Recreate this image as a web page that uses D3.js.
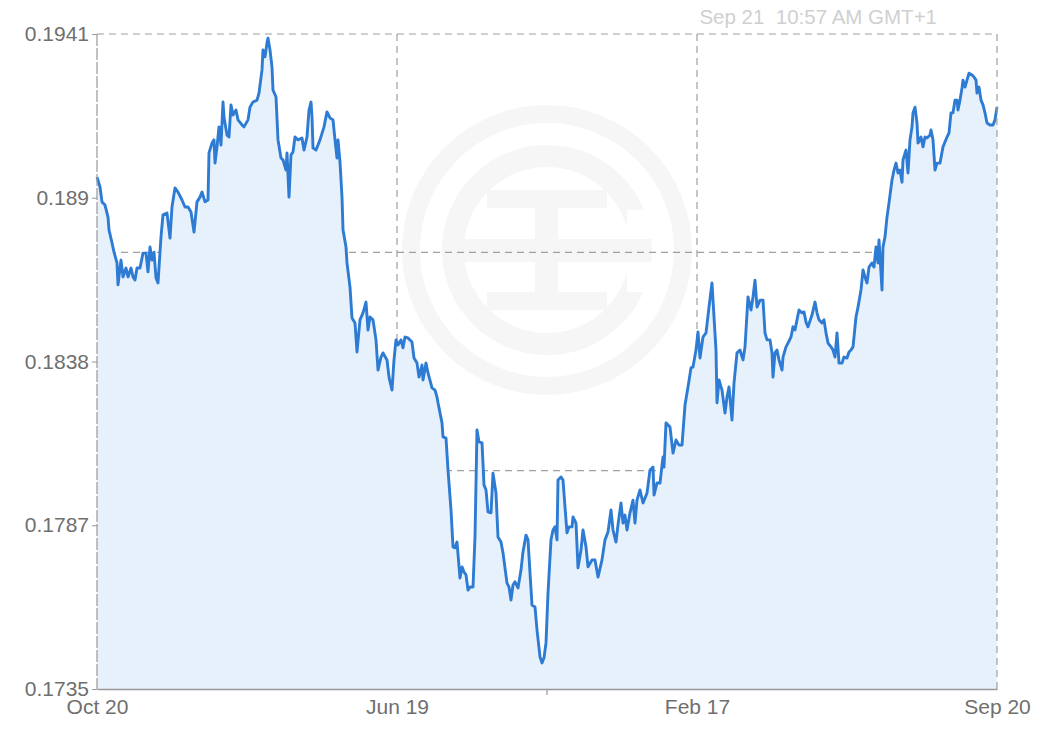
<!DOCTYPE html>
<html>
<head>
<meta charset="utf-8">
<script src="https://cdn.jsdelivr.net/npm/d3@7"></script>
<style>
  html, body { margin: 0; padding: 0; background: #fff; }
  svg { display: block; font-family: "Liberation Sans", Arial, Helvetica, sans-serif; }
</style>
</head>
<body>
<svg id="chart" width="1043" height="733"></svg>
<script>
// ---- data ----
const steps = [
  0,3,5,8,11,12,15,17,20,21,
  24,26,29,31,34,36,38,40,43,46,
  49,51,53,55,57,59,61,64,66,70,
  73,75,78,81,85,88,91,94,97,100,
  103,105,108,111,112,115,117,118,120,122,
  124,126,127,130,132,134,136,139,141,145,
  147,151,153,156,160,162,165,166,168,170,
  171,173,175,176,179,181,184,186,189,190,
  192,194,196,198,201,205,207,210,212,214,
  215,216,219,223,227,230,233,236,238,240,
  241,243,245,246,249,250,253,255,258,260,
  263,266,269,271,273,276,279,281,284,286,
  290,292,295,297,299,301,304,306,308,311,
  315,317,320,322,325,326,329,331,335,338,
  340,341,345,346,349,351,354,356,358,360,
  363,365,367,369,371,373,376,378,380,382,
  385,387,389,391,394,396,399,401,404,406,
  410,412,414,416,418,421,424,426,429,431,
  433,435,438,440,443,445,447,449,451,454,
  456,458,460,461,464,466,468,470,472,475,
  476,479,481,484,486,489,491,495,498,501,
  505,508,511,514,516,519,521,524,526,528,
  530,533,536,538,540,543,546,550,553,556,
  557,560,563,566,567,569,573,576,579,582,
  585,588,591,594,596,599,601,603,606,609,
  612,615,617,619,620,622,625,628,630,632,
  635,637,640,643,646,648,651,654,656,658,
  660,663,666,668,670,673,675,676,678,680,
  682,685,686,689,691,694,696,698,700,702,
  705,707,709,711,715,718,720,722,725,727,
  729,731,734,736,738,740,742,745,747,750,
  752,754,756,759,761,764,766,768,770,772,
  775,777,779,781,782,784,785,786,788,790,
  792,795,797,799,801,803,805,806,809,811,
  813,815,816,818,820,821,824,826,828,830,
  831,833,834,836,838,840,843,846,850,852,
  854,856,858,860,861,863,865,866,868,870,
  872,875,877,879,880,882,884,886,888,890,
  893,896,898,900
];
const rates = [
  0.18962,0.18931,0.18884,0.18874,0.18836,0.18796,0.18755,0.18726,0.18692,0.18623,
  0.18701,0.18648,0.18676,0.18648,0.18676,0.18648,0.18638,0.18676,0.18676,0.18723,
  0.18723,0.18664,0.18742,0.18701,0.18726,0.18645,0.18629,0.18774,0.18843,0.18849,
  0.18770,0.18868,0.18928,0.18915,0.18890,0.18868,0.18868,0.18852,0.18789,0.18884,
  0.18899,0.18915,0.18884,0.18890,0.19038,0.19069,0.19079,0.19006,0.19057,0.19120,
  0.19063,0.19198,0.19151,0.19094,0.19088,0.19189,0.19157,0.19173,0.19142,0.19126,
  0.19120,0.19142,0.19182,0.19198,0.19204,0.19226,0.19299,0.19362,0.19340,0.19384,
  0.19399,0.19362,0.19308,0.19236,0.19214,0.19079,0.19022,0.19016,0.18984,0.19038,
  0.18899,0.19032,0.19041,0.19088,0.19079,0.19085,0.19047,0.19088,0.19173,0.19198,
  0.19151,0.19054,0.19047,0.19079,0.19120,0.19167,0.19148,0.19142,0.19079,0.19022,
  0.19079,0.19009,0.18899,0.18796,0.18742,0.18692,0.18616,0.18519,0.18503,0.18412,
  0.18513,0.18535,0.18569,0.18481,0.18522,0.18513,0.18450,0.18355,0.18396,0.18409,
  0.18387,0.18333,0.18292,0.18387,0.18450,0.18434,0.18450,0.18425,0.18459,0.18456,
  0.18443,0.18393,0.18377,0.18333,0.18371,0.18324,0.18377,0.18346,0.18299,0.18292,
  0.18270,0.18252,0.18189,0.18145,0.18141,0.18041,0.17915,0.17799,0.17796,0.17814,
  0.17701,0.17736,0.17720,0.17711,0.17663,0.17673,0.17673,0.17830,0.18167,0.18129,
  0.18126,0.17994,0.17978,0.17909,0.17906,0.18031,0.17968,0.17830,0.17814,0.17780,
  0.17685,0.17673,0.17632,0.17679,0.17689,0.17670,0.17726,0.17783,0.17836,0.17821,
  0.17717,0.17616,0.17610,0.17538,0.17453,0.17434,0.17450,0.17497,0.17654,0.17821,
  0.17852,0.17862,0.17821,0.18009,0.18019,0.18009,0.17924,0.17843,0.17862,0.17862,
  0.17893,0.17874,0.17733,0.17789,0.17852,0.17799,0.17736,0.17758,0.17758,0.17704,
  0.17758,0.17821,0.17846,0.17915,0.17852,0.17814,0.17868,0.17937,0.17874,0.17899,
  0.17852,0.17906,0.17946,0.17874,0.17946,0.17978,0.17937,0.17968,0.18041,0.18050,
  0.17962,0.18000,0.18000,0.18082,0.18050,0.18189,0.18176,0.18094,0.18135,0.18119,
  0.18119,0.18245,0.18302,0.18362,0.18365,0.18418,0.18475,0.18393,0.18459,0.18472,
  0.18553,0.18629,0.18522,0.18418,0.18252,0.18324,0.18292,0.18220,0.18270,0.18302,
  0.18198,0.18314,0.18409,0.18418,0.18387,0.18428,0.18585,0.18544,0.18585,0.18638,
  0.18553,0.18575,0.18575,0.18472,0.18450,0.18450,0.18409,0.18333,0.18409,0.18418,
  0.18387,0.18355,0.18396,0.18428,0.18440,0.18459,0.18491,0.18481,0.18513,0.18544,
  0.18535,0.18538,0.18506,0.18491,0.18528,0.18569,0.18535,0.18513,0.18503,0.18513,
  0.18472,0.18440,0.18428,0.18418,0.18396,0.18472,0.18377,0.18377,0.18396,0.18393,
  0.18412,0.18418,0.18428,0.18522,0.18553,0.18607,0.18670,0.18648,0.18629,0.18679,
  0.18692,0.18679,0.18742,0.18692,0.18764,0.18660,0.18607,0.18742,0.18774,0.18836,
  0.18881,0.18953,0.18984,0.19006,0.18975,0.18984,0.18946,0.19016,0.19047,0.18975,
  0.19079,0.19120,0.19164,0.19182,0.19132,0.19069,0.19088,0.19057,0.19088,0.19085,
  0.19088,0.19094,0.19110,0.19079,0.18984,0.19006,0.19006,0.19057,0.19088,0.19101,
  0.19164,0.19164,0.19204,0.19204,0.19173,0.19204,0.19242,0.19267,0.19245,0.19267,
  0.19289,0.19283,0.19277,0.19267,0.19226,0.19245,0.19204,0.19189,0.19164,0.19132,
  0.19126,0.19126,0.19142,0.19182
];
const yTicks = [0.17352, 0.17867, 0.18382, 0.18897, 0.19412];
const xTickSteps = [0, 300, 600, 900];
const xTickLabels = ["Oct 20", "Jun 19", "Feb 17", "Sep 20"];
const minorXTicks = [450];
const timestamp = "Sep 21  10:57 AM GMT+1";

// ---- layout ----
const W = 1043, H = 733;
const m = { left: 97, right: 46, top: 34, bottom: 44 };
const x0 = m.left, x1 = W - m.right, y0 = m.top, y1 = H - m.bottom;

const svg = d3.select("#chart");
const x = d3.scaleLinear().domain([0, 900]).range([x0, x1]);
const y = d3.scaleLinear().domain([yTicks[0], yTicks[yTicks.length - 1]]).range([y1, y0]);
const data = steps.map((s, i) => ({ s, v: rates[i] }));

// ---- watermark ----
const wm = svg.append("g");
const cx = (x0 + x1) / 2, cy = 250;
const wmGrey = "#f6f6f6";
wm.append("circle").attr("cx", cx).attr("cy", cy).attr("r", 136)
  .attr("fill", "none").attr("stroke", wmGrey).attr("stroke-width", 18);
wm.append("circle").attr("cx", cx).attr("cy", cy).attr("r", 94)
  .attr("fill", "none").attr("stroke", wmGrey).attr("stroke-width", 22);
wm.append("rect").attr("x", cx - 60).attr("y", cy - 60).attr("width", 120).attr("height", 18).attr("fill", wmGrey);
wm.append("rect").attr("x", cx - 84).attr("y", cy - 11).attr("width", 184).attr("height", 23).attr("fill", wmGrey);
wm.append("rect").attr("x", cx - 60).attr("y", cy + 42).attr("width", 120).attr("height", 18).attr("fill", wmGrey);
wm.append("rect").attr("x", cx - 12).attr("y", cy - 42).attr("width", 23).attr("height", 84).attr("fill", wmGrey);
wm.append("rect").attr("x", cx + 80).attr("y", cy - 40).attr("width", 30).attr("height", 29).attr("fill", "#fff");
wm.append("rect").attr("x", cx + 80).attr("y", cy + 12).attr("width", 30).attr("height", 30).attr("fill", "#fff");

// ---- internal grid (behind area) ----
const gridColor = "#a0a0a0";
const dash = "7,5";
const g = svg.append("g");
[300, 600].forEach(s => {
  g.append("line").attr("x1", x(s)).attr("x2", x(s)).attr("y1", y0).attr("y2", y1)
    .attr("stroke", gridColor).attr("stroke-width", 1.2).attr("stroke-dasharray", dash);
});
const yDom = y.domain();
[1 / 3, 2 / 3].forEach(f => {
  const v = yDom[0] + (yDom[1] - yDom[0]) * f;
  g.append("line").attr("x1", x0).attr("x2", x1).attr("y1", y(v)).attr("y2", y(v))
    .attr("stroke", gridColor).attr("stroke-width", 1.2).attr("stroke-dasharray", dash);
});

// ---- area + line ----
const area = d3.area().x(d => x(d.s)).y0(y1).y1(d => y(d.v));
const line = d3.line().x(d => x(d.s)).y(d => y(d.v));
svg.append("path").datum(data).attr("d", area).attr("fill", "#e7f1fb");
svg.append("path").datum(data).attr("d", line).attr("fill", "none")
  .attr("stroke", "#2e7bd3").attr("stroke-width", 2.9).attr("stroke-linejoin", "round");

// ---- border ----
const b = svg.append("g");
b.append("line").attr("x1", x0).attr("x2", x1).attr("y1", y0).attr("y2", y0)
  .attr("stroke", gridColor).attr("stroke-width", 1.2).attr("stroke-dasharray", dash);
b.append("line").attr("x1", x0).attr("x2", x0).attr("y1", y0).attr("y2", y1)
  .attr("stroke", "#999").attr("stroke-width", 1.2).attr("stroke-dasharray", "12,2");
b.append("line").attr("x1", x1).attr("x2", x1).attr("y1", y0).attr("y2", y1)
  .attr("stroke", gridColor).attr("stroke-width", 1.2).attr("stroke-dasharray", dash);

// ---- y axis ----
const fmt = d3.format(".4~r");
const yAxis = d3.axisLeft(y).tickValues(yTicks).tickFormat(fmt).tickSize(5).tickPadding(3);
const ya = svg.append("g").attr("transform", `translate(${x0},0)`).call(yAxis);
ya.select(".domain").remove();
ya.selectAll(".tick line").attr("stroke", "#999");
ya.selectAll(".tick text").attr("fill", "#6f6f6f").style("font-size", "21px");

// ---- x axis ----
const xAxis = d3.axisBottom(x).tickValues(xTickSteps)
  .tickFormat((d, i) => xTickLabels[i]).tickSize(0).tickPadding(10);
const xa = svg.append("g").attr("transform", `translate(0,${y1})`).call(xAxis);
xa.select(".domain").attr("stroke", "#999").attr("stroke-width", 1.5);
xa.selectAll(".tick text").attr("fill", "#6f6f6f").style("font-size", "21px");
xa.selectAll(".minor").data(minorXTicks).enter().append("line")
  .attr("x1", d => x(d)).attr("x2", d => x(d)).attr("y1", 0).attr("y2", 6)
  .attr("stroke", "#999").attr("stroke-width", 1.2);

// ---- timestamp ----
svg.append("text").attr("x", 937).attr("y", 24).attr("text-anchor", "end")
  .attr("fill", "#d0d0d0").style("font-size", "20.5px").style("white-space", "pre")
  .text(timestamp);
</script>
</body>
</html>
